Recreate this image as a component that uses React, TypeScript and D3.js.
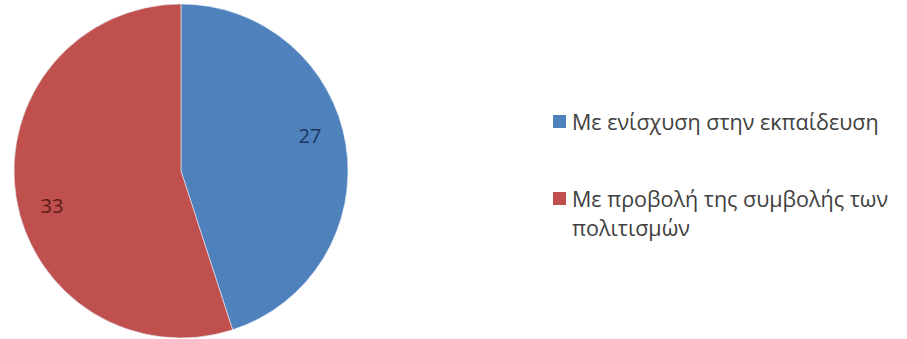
import React from "react";
import * as d3 from "d3";

const categories = ["Με ενίσχυση στην εκπαίδευση", "Με προβολή της συμβολής των πολιτισμών"];
const values = [27, 33];
const legendLines = [["Με ενίσχυση στην εκπαίδευση"], ["Με προβολή της συμβολής των", "πολιτισμών"]];
const colors = ["#4f81bd", "#c0504d"];
const labelColors = ["#1b3560", "#5c1a18"];

export default function App() {
  const W = 907, H = 339;
  const cx = 181, cy = 171, r = 167;
  const pie = d3.pie<number>().sort(null).value((d) => d);
  const arcs = pie(values);
  const arc = d3.arc<d3.PieArcDatum<number>>().innerRadius(0).outerRadius(r);
  const labelR = r * 0.8;
  const labelShift = (-6 * Math.PI) / 180;
  const legendY = [130, 207];
  return (
    <svg width={W} height={H} style={{ position: "absolute", left: 0, top: 0 }}>
      <rect width={W} height={H} fill="#ffffff" />
      <g transform={`translate(${cx},${cy})`}>
        {arcs.map((a, i) => (
          <path key={i} d={arc(a) || ""} fill={colors[i]} stroke="#e8eef8" strokeWidth={0.6} />
        ))}
        {arcs.map((a, i) => {
          const ang = (a.startAngle + a.endAngle) / 2 + labelShift;
          const x = labelR * Math.sin(ang);
          const y = -labelR * Math.cos(ang);
          return (
            <text key={i} x={x} y={y} dy="0.35em" textAnchor="middle" fontFamily="'Open Sans', sans-serif" fontSize={20} fill={labelColors[i]}>
              {values[i]}
            </text>
          );
        })}
      </g>
      {categories.map((c, i) => (
        <g key={i}>
          <rect x={553} y={legendY[i] - 15} width={13} height={13} fill={colors[i]} />
          <text x={572} y={legendY[i]} fontFamily="'Open Sans', sans-serif" fontSize={21.5} fill="#404040">
            {legendLines[i].map((l, j) => (
              <tspan key={j} x={572} dy={j === 0 ? 0 : 29}>{l}</tspan>
            ))}
          </text>
        </g>
      ))}
    </svg>
  );
}
